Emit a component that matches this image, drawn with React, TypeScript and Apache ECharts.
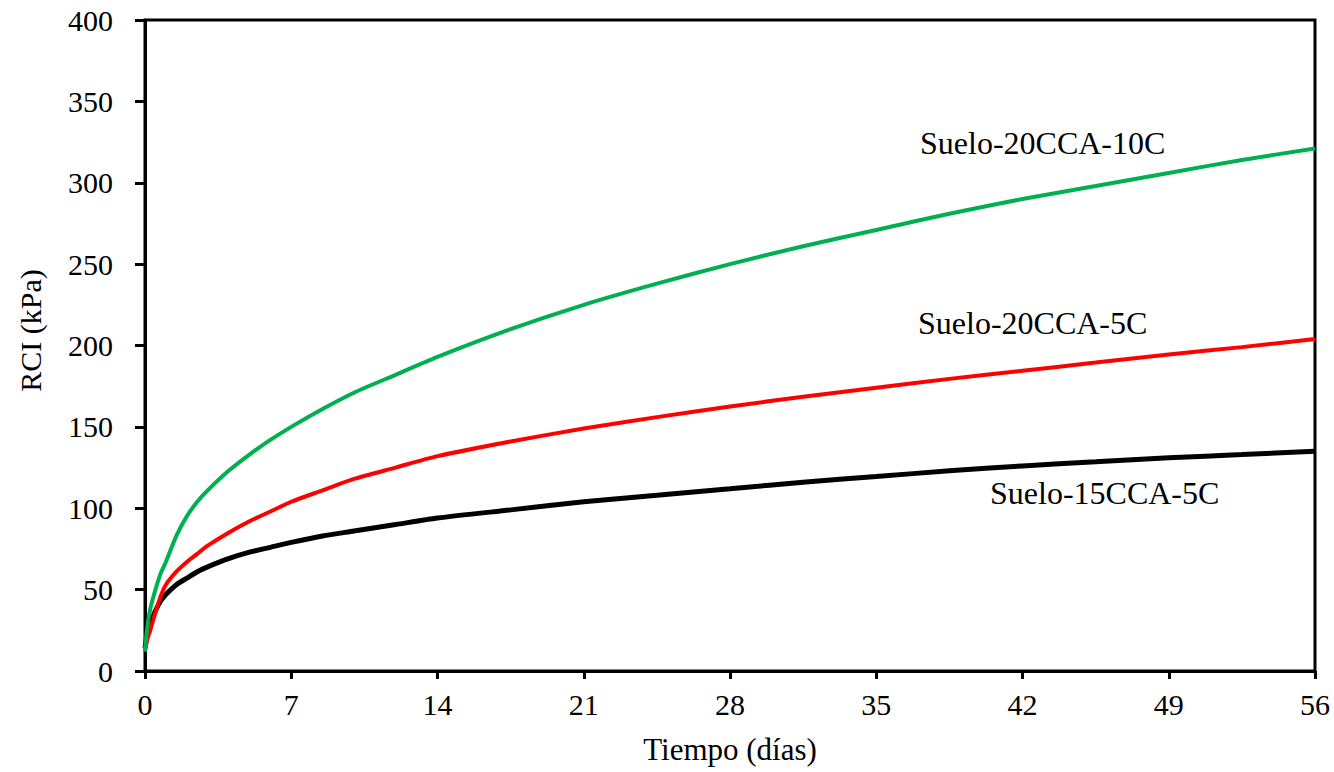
import React, { useEffect, useRef } from "react";
import * as echarts from "echarts";

const days = [0, 0.1, 0.25, 0.5, 0.75, 1, 1.5, 2, 2.5, 3, 4, 5, 6, 7, 8.5, 10, 12, 14, 17.5, 21, 24.5, 28, 31.5, 35, 38.5, 42, 45.5, 49, 52.5, 56];
const green10C = [12, 26, 38, 50, 60, 67, 83, 95, 104, 111, 123, 133, 142, 150, 161, 171, 182, 193, 210, 225, 238, 250, 261, 271, 281, 290, 298, 306, 314, 321];
const red5C = [12, 19, 25, 36, 46, 53, 61, 67, 72, 77, 85, 92, 98, 104, 111, 118, 125, 132, 141, 149, 156, 162.5, 168.5, 174, 179.5, 184.5, 189.5, 194.5, 199, 204];
const black15 = [14, 22, 29, 37, 43, 47, 53, 57, 61, 64, 69, 73, 76, 79, 83, 86, 90, 94, 99, 104, 108, 112, 116, 119.5, 123, 126, 128.5, 131, 133, 135];

const seriesNames = ["Suelo-15CCA-5C", "Suelo-20CCA-5C", "Suelo-20CCA-10C"];
const xTicks = [0, 7, 14, 21, 28, 35, 42, 49, 56];
const yTicks = [0, 50, 100, 150, 200, 250, 300, 350, 400];

const FONT = "Liberation Serif";

function pairs(xs: number[], ys: number[]) {
  return xs.map((x, i) => [x, ys[i]]);
}

export default function App() {
  const ref = useRef<HTMLDivElement>(null);
  useEffect(() => {
    if (!ref.current) return;
    const chart = echarts.init(ref.current, null, { renderer: "svg" });
    const lineBase = {
      type: "line",
      smooth: 0.25,
      showSymbol: false,
    };
    chart.setOption({
      animation: false,
      backgroundColor: "#ffffff",
      textStyle: { fontFamily: FONT },
      grid: {
        left: 145,
        right: 19,
        top: 20,
        bottom: 101,
        show: true,
        borderColor: "#000",
        borderWidth: 3,
      },
      xAxis: {
        type: "value",
        min: xTicks[0],
        max: xTicks[xTicks.length - 1],
        interval: 7,
        name: "Tiempo (días)",
        nameLocation: "middle",
        nameGap: 63,
        nameTextStyle: { fontFamily: FONT, fontSize: 31, color: "#000" },
        axisLine: { show: true, lineStyle: { color: "#000", width: 3 } },
        axisTick: { show: true, length: 8, lineStyle: { color: "#000", width: 3 } },
        axisLabel: { fontFamily: FONT, fontSize: 30, color: "#000", margin: 18 },
        splitLine: { show: false },
      },
      yAxis: {
        type: "value",
        min: yTicks[0],
        max: yTicks[yTicks.length - 1],
        interval: 50,
        name: "RCI (kPa)",
        nameLocation: "middle",
        nameGap: 100,
        nameTextStyle: {
          fontFamily: FONT,
          fontSize: 30,
          color: "#000",
          padding: [0, 0, 0, 30],
        },
        axisLine: { show: true, lineStyle: { color: "#000", width: 3 } },
        axisTick: { show: true, length: 10, lineStyle: { color: "#000", width: 3 } },
        axisLabel: { fontFamily: FONT, fontSize: 30, color: "#000", margin: 32 },
        splitLine: { show: false },
      },
      series: [
        {
          ...lineBase,
          name: seriesNames[0],
          data: pairs(days, black15),
          lineStyle: { color: "#000000", width: 5 },
        },
        {
          ...lineBase,
          name: seriesNames[1],
          data: pairs(days, red5C),
          lineStyle: { color: "#ff0000", width: 4 },
        },
        {
          ...lineBase,
          name: seriesNames[2],
          data: pairs(days, green10C),
          lineStyle: { color: "#00b050", width: 4 },
        },
      ],
      graphic: [
        {
          type: "text",
          left: 920,
          top: 127,
          style: { text: seriesNames[2], font: `32px ${FONT}`, fill: "#000" },
        },
        {
          type: "text",
          left: 918,
          top: 307,
          style: { text: seriesNames[1], font: `32px ${FONT}`, fill: "#000" },
        },
        {
          type: "text",
          left: 990,
          top: 477,
          style: { text: seriesNames[0], font: `32px ${FONT}`, fill: "#000" },
        },
      ],
    });
    return () => chart.dispose();
  }, []);
  return (
    <div
      ref={ref}
      style={{ position: "fixed", left: 0, top: 0, width: 1334, height: 772 }}
    />
  );
}
